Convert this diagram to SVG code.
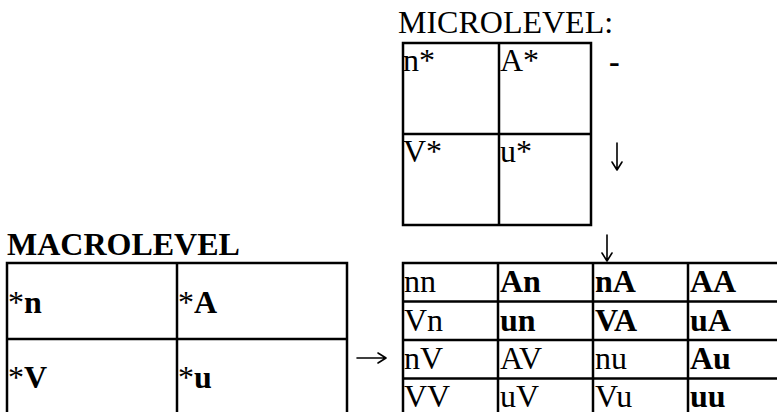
<svg xmlns="http://www.w3.org/2000/svg" width="777" height="412" viewBox="0 0 777 412">
<style>
text { font-family: "Liberation Serif", "Times New Roman", serif; font-size: 32px; fill: #000; }
.b { font-weight: bold; }
.grid { fill: none; stroke: #000; stroke-width: 2.5; }
.arrow { fill: none; stroke: #000; stroke-width: 1.6; stroke-linecap: round; stroke-linejoin: round; }
</style>
<rect width="777" height="412" fill="#fff"/>
<g id="micro">
  <text x="398" y="33">MICROLEVEL:</text>
  <rect class="grid" x="403" y="43" width="188" height="182"/>
  <line class="grid" x1="499" y1="43" x2="499" y2="225"/>
  <line class="grid" x1="403" y1="134" x2="591" y2="134"/>
  <text x="403" y="71">n*</text>
  <text x="500" y="71">A*</text>
  <text x="403" y="162">V*</text>
  <text x="500" y="162">u*</text>
</g>
<g id="macro">
  <text class="b" x="7" y="255">MACROLEVEL</text>
  <rect class="grid" x="7" y="263" width="340" height="155"/>
  <line class="grid" x1="177" y1="263" x2="177" y2="418"/>
  <line class="grid" x1="7" y1="339" x2="347" y2="339"/>
  <text class="b" x="8" y="313"><tspan font-weight="normal">*</tspan>n</text>
  <text class="b" x="178" y="313"><tspan font-weight="normal">*</tspan>A</text>
  <text class="b" x="8" y="388"><tspan font-weight="normal">*</tspan>V</text>
  <text class="b" x="178" y="388"><tspan font-weight="normal">*</tspan>u</text>
</g>
<g id="combinations">
  <rect class="grid" x="403" y="263" width="382" height="155"/>
  <line class="grid" x1="498" y1="263" x2="498" y2="418"/>
  <line class="grid" x1="593" y1="263" x2="593" y2="418"/>
  <line class="grid" x1="688" y1="263" x2="688" y2="418"/>
  <line class="grid" x1="403" y1="301.5" x2="785" y2="301.5"/>
  <line class="grid" x1="403" y1="340" x2="785" y2="340"/>
  <line class="grid" x1="403" y1="378.5" x2="785" y2="378.5"/>
  <text x="404" y="292">nn</text>
  <text class="b" x="500" y="292">An</text>
  <text class="b" x="595" y="292">nA</text>
  <text class="b" x="690" y="292">AA</text>
  <text x="404" y="330.5">Vn</text>
  <text class="b" x="500" y="330.5">un</text>
  <text class="b" x="595" y="330.5">VA</text>
  <text class="b" x="690" y="330.5">uA</text>
  <text x="404" y="369">nV</text>
  <text x="500" y="369">AV</text>
  <text x="595" y="369">nu</text>
  <text class="b" x="690" y="369">Au</text>
  <text x="404" y="406.5">VV</text>
  <text x="500" y="406.5">uV</text>
  <text x="595" y="406.5">Vu</text>
  <text class="b" x="690" y="406.5">uu</text>
</g>
<g id="connectors">
  <text class="b" x="609" y="72">-</text>
  <path class="arrow" d="M617 143 V170 M612 162 L617 170 L622 162"/>
  <path class="arrow" d="M607 235 V261 M602 253 L607 261 L612 253"/>
  <path class="arrow" d="M357 358 H386 M378 353 L386 358 L378 363"/>
</g>
</svg>
